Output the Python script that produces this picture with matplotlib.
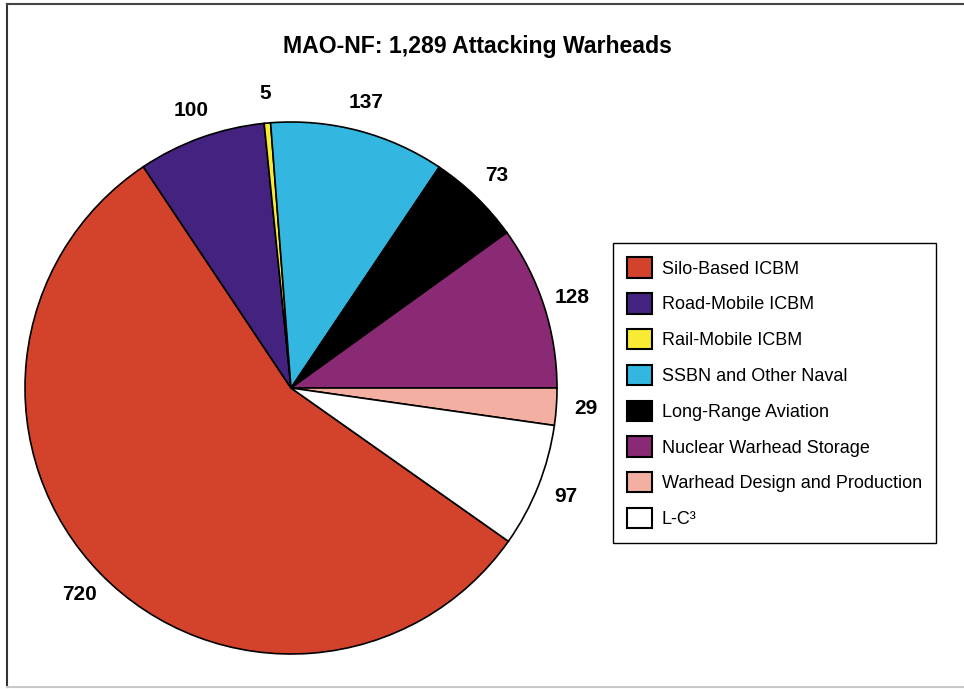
import matplotlib
matplotlib.use("Agg")
import matplotlib.pyplot as plt
from matplotlib.lines import Line2D

categories = [
    "Silo-Based ICBM",
    "Road-Mobile ICBM",
    "Rail-Mobile ICBM",
    "SSBN and Other Naval",
    "Long-Range Aviation",
    "Nuclear Warhead Storage",
    "Warhead Design and Production",
    "L-C\u00b3",
]
warheads = [720, 100, 5, 137, 73, 128, 29, 97]
colors = ["#d3432c", "#43237f", "#f7ec33", "#33b7e0", "#000000",
          "#8a2a74", "#f2afa2", "#ffffff"]
title = "MAO-NF: 1,289 Attacking Warheads"

W, H = 964, 689
fig = plt.figure(figsize=(W / 100, H / 100), dpi=100)
fig.patch.set_facecolor("white")

total = sum(warheads)
# pie so that the storage slice ends at 3 o'clock, going clockwise
start = 360.0 * sum(warheads[:6]) / total

cx, cy, r = 291, 388, 266
ax = fig.add_axes([(cx - r) / W, (H - cy - r) / H, 2 * r / W, 2 * r / H])
wedges, _, autotexts = ax.pie(
    warheads,
    colors=colors,
    startangle=start,
    counterclock=False,
    autopct=lambda p: f"{round(p * total / 100)}",
    pctdistance=1.11,
    wedgeprops={"edgecolor": "black", "linewidth": 1.2},
    textprops={"fontsize": 15, "fontweight": "bold",
               "family": ["Liberation Sans", "DejaVu Sans"]},
)
ax.set_xlim(-1, 1)
ax.set_ylim(-1, 1)
ax.set_aspect("equal")
ax.axis("off")

fig.text(477 / W, 1 - 47 / H, title, ha="center", va="center",
         fontsize=16.6, fontweight="bold",
         family=["Liberation Sans", "DejaVu Sans"])

leg = fig.legend(
    wedges, categories,
    loc="upper left",
    bbox_to_anchor=(613 / W, 1 - 243 / H),
    prop={"family": ["Liberation Sans", "DejaVu Sans"], "size": 13},
    handlelength=1.35, handleheight=1.35, handletextpad=0.55,
    labelspacing=0.86, borderpad=0.8, borderaxespad=0,
    fancybox=False, framealpha=1, edgecolor="black",
)
leg.get_frame().set_linewidth(1.0)
for h in leg.legend_handles:
    h.set_edgecolor("black")
    h.set_linewidth(1.5)

# outer frame of the original graphic
fig.add_artist(Line2D([7 / W, 7 / W], [1 - 4 / H, 1 - 687 / H],
                      color="#333333", linewidth=1.5))
fig.add_artist(Line2D([7 / W, 1], [1 - 4 / H, 1 - 4 / H],
                      color="#444444", linewidth=1.5))
fig.add_artist(Line2D([7 / W, 1], [1 - 687 / H, 1 - 687 / H],
                      color="#c8c8c8", linewidth=1.5))

fig.savefig("out.png", dpi=100)
